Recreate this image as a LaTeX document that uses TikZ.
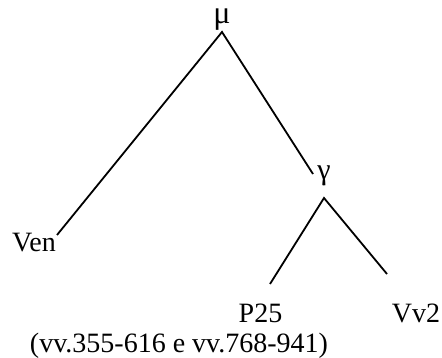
\documentclass[tikz,border=0pt]{standalone}
\usepackage{fontspec}
\setmainfont{Liberation Serif}
\begin{document}
\begin{tikzpicture}[x=1pt,y=-1pt,
  lbl/.style={inner sep=0pt,anchor=base,font=\fontsize{28}{33}\selectfont},
  greek/.style={inner sep=0pt,anchor=base,text height=12pt,text depth=6pt},
  edge/.style={line width=1.8pt,line cap=butt}]
\useasboundingbox (0,0) rectangle (442,358);
% nodes
\node[greek,font=\fontsize{32}{38}\selectfont] (mu) at (222,24) {μ};
\node[greek,font=\fontsize{30}{36}\selectfont] (gamma) at (324,180) {γ};
\node[lbl] (ven) at (34,252) {Ven};
\node[lbl] (p25) at (260.5,322) {P25};
\node[lbl] (vv2) at (416,322) {Vv2};
\node[lbl] (cap) at (179,352) {(vv.355-616 e vv.768-941)};
% connector ends
\coordinate (muA) at (222,32);
\coordinate (venE) at (57,235);
\coordinate (gamE) at (313,174);
\coordinate (gamA) at (324,198);
\coordinate (p25E) at (270,284);
\coordinate (vv2E) at (387,274);
% connectors
\draw[edge] (venE) -- (muA) -- (gamE);
\draw[edge] (p25E) -- (gamA) -- (vv2E);
\end{tikzpicture}
\end{document}
